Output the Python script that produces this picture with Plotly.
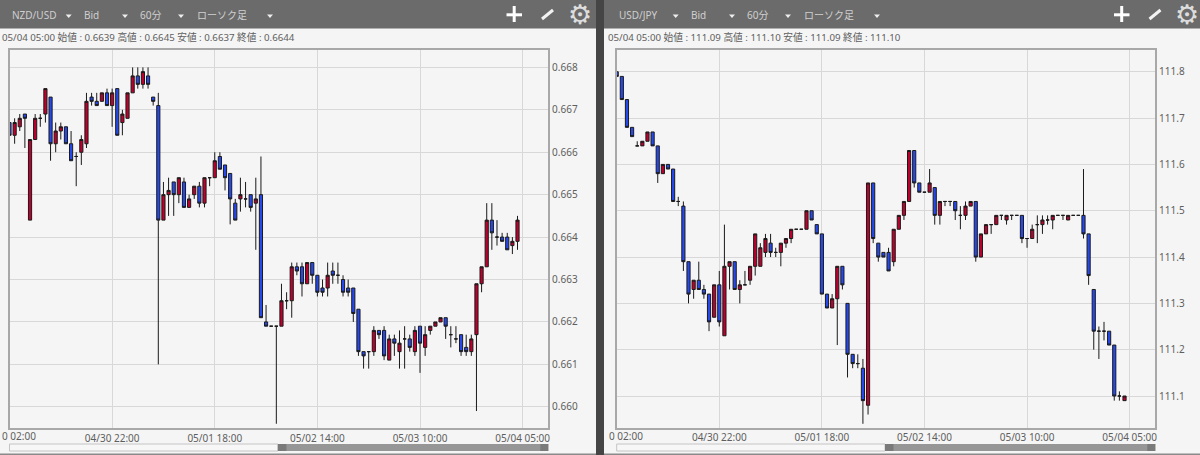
import plotly.graph_objects as go

W, H = 1200, 455

# ---- data: NZD/USD 60-minute candles ----
nzd_open = [.6667,.6664,.6666,.6669,.6644,.6663,.6668,.6669,.6673,.6662,
            .6665,.6666,.6662,.6659,.6660,.6662,.6673,.6672,.6672,.6674,
            .6671,.6675,.6667,.6668,.6674,.6678,.6676,.6678,.6673,.6671,
            .6644,.6650,.6653,.6650,.6653,.6647,.6650,.6652,.6648,.6654,
            .6654,.6659,.6657,.6655,.6648,.6649,.6649,.6650,.6648,.6650,
            .6620,.6619,.6619,.6619,.6625,.6625,.6633,.6633,.6629,.6634,
            .6631,.6628,.6628,.6632,.6631,.6630,.6628,.6628,.6623,.6613,
            .6613,.6613,.6618,.6618,.6611,.6616,.6613,.6616,.6616,.6613,
            .6619,.6614,.6618,.6619,.6620,.6621,.6617,.6616,.6617,.6614,
            .6613,.6617,.6629,.6633,.6644,.6640,.6640,.6640,.6638,.6639]
nzd_high = [.6667,.6668,.6669,.6669,.6663,.6669,.6669,.6675,.6673,.6667,
            .6667,.6666,.6665,.6660,.6664,.6674,.6674,.6674,.6674,.6675,
            .6675,.6675,.6670,.6674,.6680,.6680,.6680,.6680,.6673,.6674,
            .6653,.6654,.6653,.6654,.6654,.6650,.6652,.6653,.6654,.6654,
            .6660,.6660,.6657,.6655,.6649,.6654,.6653,.6650,.6654,.6659,
            .6624,.6619,.6619,.6629,.6627,.6634,.6634,.6634,.6634,.6634,
            .6631,.6630,.6634,.6634,.6634,.6631,.6630,.6628,.6623,.6613,
            .6613,.6619,.6618,.6619,.6617,.6617,.6618,.6619,.6617,.6619,
            .6619,.6619,.6619,.6620,.6621,.6621,.6619,.6619,.6617,.6617,
            .6617,.6629,.6633,.6648,.6648,.6644,.6641,.6641,.6640,.6645]
nzd_low = [.6664,.6662,.6665,.6661,.6644,.6663,.6666,.6667,.6658,.6660,
           .6663,.6662,.6658,.6652,.6657,.6661,.6671,.6671,.6672,.6671,
           .6666,.6664,.6664,.6668,.6674,.6675,.6675,.6675,.6671,.6610,
           .6644,.6645,.6645,.6648,.6647,.6647,.6649,.6647,.6647,.6652,
           .6654,.6656,.6651,.6643,.6644,.6646,.6647,.6646,.6637,.6621,
           .6619,.6619,.6596,.6619,.6623,.6621,.6631,.6626,.6629,.6629,
           .6626,.6626,.6626,.6629,.6629,.6626,.6626,.6620,.6612,.6609,
           .6609,.6612,.6616,.6611,.6611,.6612,.6609,.6609,.6613,.6612,
           .6608,.6612,.6617,.6619,.6620,.6616,.6614,.6615,.6612,.6612,
           .6612,.6599,.6627,.6633,.6637,.6638,.6639,.6637,.6636,.6637]
nzd_close = [.6664,.6667,.6668,.6668,.6663,.6668,.6668,.6675,.6662,.6665,
             .6666,.6662,.6658,.6659,.6663,.6672,.6672,.6671,.6674,.6671,
             .6674,.6664,.6669,.6674,.6678,.6676,.6679,.6676,.6672,.6644,
             .6650,.6651,.6650,.6654,.6647,.6649,.6652,.6648,.6654,.6654,
             .6658,.6656,.6654,.6649,.6644,.6650,.6649,.6647,.6649,.6621,
             .6619,.6619,.6619,.6625,.6625,.6633,.6632,.6629,.6634,.6631,
             .6627,.6627,.6631,.6631,.6631,.6627,.6627,.6622,.6613,.6612,
             .6613,.6618,.6617,.6612,.6616,.6615,.6615,.6616,.6614,.6618,
             .6615,.6617,.6619,.6620,.6621,.6619,.6617,.6616,.6613,.6613,
             .6616,.6629,.6633,.6644,.6641,.6640,.6639,.6637,.6639,.6644]

# ---- data: USD/JPY 60-minute candles ----
usd_open = [111.80,111.79,111.74,111.68,111.64,111.64,111.65,111.67,111.64,111.58,
            111.60,111.59,111.52,111.51,111.39,111.33,111.35,111.33,111.32,111.27,
            111.34,111.23,111.38,111.39,111.33,111.34,111.35,111.38,111.38,111.41,
            111.43,111.41,111.41,111.43,111.44,111.46,111.46,111.46,111.50,111.47,
            111.45,111.32,111.29,111.31,111.38,111.30,111.19,111.17,111.16,111.08,
            111.56,111.43,111.41,111.41,111.39,111.46,111.49,111.52,111.63,111.56,
            111.54,111.54,111.55,111.49,111.52,111.52,111.52,111.49,111.49,111.51,
            111.52,111.40,111.45,111.47,111.47,111.49,111.48,111.49,111.49,111.49,
            111.44,111.44,111.47,111.47,111.48,111.48,111.49,111.49,111.48,111.49,
            111.49,111.49,111.45,111.33,111.24,111.24,111.24,111.21,111.10,111.09]
usd_high = [111.80,111.79,111.74,111.68,111.65,111.65,111.67,111.67,111.64,111.60,
            111.60,111.59,111.53,111.52,111.39,111.35,111.39,111.34,111.32,111.34,
            111.37,111.47,111.39,111.39,111.35,111.37,111.38,111.45,111.43,111.45,
            111.45,111.42,111.43,111.44,111.46,111.46,111.46,111.50,111.50,111.47,
            111.45,111.32,111.32,111.38,111.38,111.30,111.19,111.19,111.18,111.56,
            111.56,111.43,111.41,111.42,111.46,111.49,111.52,111.63,111.63,111.56,
            111.54,111.59,111.55,111.52,111.52,111.52,111.52,111.51,111.52,111.52,
            111.52,111.45,111.47,111.47,111.49,111.49,111.49,111.49,111.49,111.49,
            111.44,111.47,111.49,111.49,111.49,111.49,111.49,111.49,111.49,111.49,
            111.49,111.59,111.45,111.33,111.25,111.26,111.24,111.21,111.11,111.10]
usd_low = [111.79,111.74,111.68,111.66,111.64,111.64,111.65,111.64,111.56,111.58,
           111.59,111.52,111.51,111.37,111.30,111.31,111.33,111.31,111.24,111.27,
           111.25,111.23,111.33,111.33,111.30,111.34,111.34,111.36,111.38,111.40,
           111.40,111.40,111.38,111.42,111.43,111.46,111.46,111.46,111.48,111.45,
           111.32,111.29,111.29,111.21,111.33,111.14,111.16,111.16,111.04,111.06,
           111.43,111.39,111.40,111.37,111.38,111.46,111.48,111.52,111.55,111.54,
           111.54,111.54,111.47,111.47,111.51,111.51,111.48,111.46,111.48,111.51,
           111.39,111.40,111.45,111.45,111.47,111.48,111.47,111.48,111.49,111.43,
           111.42,111.44,111.43,111.45,111.47,111.46,111.49,111.48,111.48,111.49,
           111.49,111.44,111.34,111.20,111.18,111.22,111.21,111.09,111.09,111.09]
usd_close = [111.79,111.74,111.68,111.66,111.64,111.65,111.67,111.64,111.58,111.60,
             111.59,111.52,111.52,111.39,111.32,111.35,111.33,111.32,111.26,111.34,
             111.26,111.38,111.39,111.33,111.34,111.34,111.38,111.45,111.42,111.44,
             111.41,111.41,111.43,111.44,111.46,111.46,111.46,111.50,111.48,111.45,
             111.32,111.29,111.31,111.38,111.34,111.19,111.17,111.17,111.09,111.56,
             111.44,111.40,111.40,111.37,111.46,111.49,111.52,111.63,111.56,111.54,
             111.54,111.56,111.49,111.52,111.52,111.52,111.50,111.49,111.51,111.52,
             111.40,111.45,111.47,111.47,111.49,111.49,111.49,111.49,111.49,111.44,
             111.44,111.46,111.47,111.48,111.48,111.49,111.49,111.49,111.49,111.49,
             111.49,111.45,111.36,111.24,111.24,111.24,111.21,111.10,111.10,111.10]

tick_slots = [0, 20, 40, 60, 80, 100]
tick_labels = ["", "04/30 22:00", "05/01 18:00", "05/02 14:00", "05/03 10:00", "05/04 05:00"]
first_tick_visible = "0 02:00"   # only this part of the first date label shows in the reference
nzd_ticks = [0.660, 0.661, 0.662, 0.663, 0.664, 0.665, 0.666, 0.667, 0.668]
usd_ticks = [111.1, 111.2, 111.3, 111.4, 111.5, 111.6, 111.7, 111.8]
menu_items = ["Bid", "60分", "ローソク足"]
nzd_info = "05/04 05:00 始値 : 0.6639 高値 : 0.6645 安値 : 0.6637 終値 : 0.6644"
usd_info = "05/04 05:00 始値 : 111.09 高値 : 111.10 安値 : 111.09 終値 : 111.10"

# ---- style ----
RED, BLUE, WICK = "#bd002e", "#2549ee", "#1a1a1a"
GRID, BORDER, BG = "#d8d8d8", "#a8a8a8", "#f5f5f5"
HEADER, DIVIDER = "#6b6b6b", "#454545"
TXT = "#5e5e5e"
FONT = "Noto Sans, Noto Sans CJK JP, sans-serif"


def px(x):
    return x / W


def py(y):
    return 1 - y / H


def rect(x0, y0, x1, y1, fill, line=None, layer="above"):
    return dict(type="rect", xref="paper", yref="paper", x0=px(x0), x1=px(x1), y0=py(y1), y1=py(y0),
                fillcolor=fill, line=dict(color=line or fill, width=1 if line else 0), layer=layer)


def label(x, y, text, color=TXT, size=10, anchor="left"):
    return dict(xref="paper", yref="paper", x=px(x), y=py(y), text=text, showarrow=False,
                xanchor=anchor, yanchor="middle", font=dict(color=color, size=size, family=FONT), borderpad=0)


x_slots = list(range(100))


def candle(o, h, l, c, xa, ya):
    return go.Candlestick(x=x_slots, open=o, high=h, low=l, close=c, xaxis=xa, yaxis=ya, showlegend=False,
                          whiskerwidth=0,
                          increasing=dict(line=dict(color=WICK, width=1), fillcolor=RED),
                          decreasing=dict(line=dict(color=WICK, width=1), fillcolor=BLUE))


fig = go.Figure([candle(nzd_open, nzd_high, nzd_low, nzd_close, "x", "y"),
                 candle(usd_open, usd_high, usd_low, usd_close, "x2", "y2")])

common_x = dict(range=[0, 105], tickmode="array", tickvals=tick_slots, ticktext=tick_labels, showgrid=True,
                gridcolor=GRID, gridwidth=1, zeroline=False, showline=True, mirror=True, linecolor=BORDER, linewidth=1.5,
                ticks="", rangeslider=dict(visible=False), ticklabeloverflow="allow", automargin=False,
                tickfont=dict(size=10, color=TXT, family=FONT))
common_y = dict(side="right", showgrid=True, gridcolor=GRID, gridwidth=1, zeroline=False, showline=True, mirror=True,
                linecolor=BORDER, linewidth=1.5, ticks="", tickmode="array", automargin=False,
                tickfont=dict(size=10, color=TXT, family=FONT))

shapes = []
annotations = []
for off, pair, info, left, right in [(0, "NZD/USD", nzd_info, 9.5, 548.3), (607, "USD/JPY", usd_info, 616.7, 1155.3)]:
    hx0 = 0 if off == 0 else 604
    hx1 = 596 if off == 0 else 1200
    shapes.append(rect(hx0, 0, hx1, 28.5, HEADER))
    annotations.append(label(11 + off, 15, pair, "#cfcfcf", 10))
    for tx, item in zip((83, 139, 196), menu_items):
        annotations.append(label(tx + off, 15, item, "#cfcfcf", 10))
    for ax in (68.7, 125, 181, 270):
        cx = ax + off
        shapes.append(dict(type="path", xref="paper", yref="paper",
                           path=f"M {px(cx-3)} {py(14.5)} L {px(cx+3)} {py(14.5)} L {px(cx)} {py(18)} Z",
                           fillcolor="#eeeeee", line=dict(width=0), layer="above"))
    shift = 0 if off == 0 else 607.5
    shapes.append(rect(506.5 + shift, 13.3, 522 + shift, 16.3, "#ffffff"))
    shapes.append(rect(512.7 + shift, 6, 515.7 + shift, 22, "#ffffff"))
    shapes.append(dict(type="line", xref="paper", yref="paper", x0=px(542 + shift), y0=py(19), x1=px(553 + shift), y1=py(10),
                       line=dict(color="#f2f2f2", width=3), layer="above"))
    annotations.append(label(579.5 + shift, 14, "⚙", "#dddddd", 27, "center"))
    annotations[-1]["font"]["family"] = "DejaVu Sans"
    annotations.append(label(1 if off == 0 else 607, 37.5, info, TXT, 9.7))
    annotations.append(label(left + 27.3, 435.5, first_tick_visible, TXT, 10, "right"))
    mid = (left + right) / 2
    thumb = mid - 1
    shapes.append(rect(left, 444, thumb, 451, "#f7f7f7", "#c4c4c4"))
    shapes.append(rect(thumb, 444, right, 451, "#969696"))
    shapes.append(rect(thumb, 444, thumb + 8.5, 451, "#7a7a7a"))
    shapes.append(rect(right - 8, 444, right, 451, "#7a7a7a"))

shapes.append(rect(596, 0, 604, 455, DIVIDER))
shapes.append(rect(0, 453.5, 596, 455, "#8a8a8a"))
shapes.append(rect(604, 453.5, 1200, 455, "#8a8a8a"))

fig.update_layout(
    width=W, height=H, autosize=False, margin=dict(l=0, r=0, t=0, b=0), paper_bgcolor=BG, plot_bgcolor=BG,
    hovermode=False, font=dict(family=FONT), boxgap=0.12,
    xaxis=dict(domain=[px(9.5), px(548.3)], anchor="y", **common_x),
    yaxis=dict(domain=[py(428), py(50)], anchor="x", range=[0.65950, 0.66841], tickvals=nzd_ticks,
               ticktext=[f"{v:.3f}" for v in nzd_ticks], **common_y),
    xaxis2=dict(domain=[px(616.7), px(1155.3)], anchor="y2", **common_x),
    yaxis2=dict(domain=[py(427.5), py(50)], anchor="x2", range=[111.032, 111.847], tickvals=usd_ticks,
                ticktext=[f"{v:.1f}" for v in usd_ticks], **common_y),
    shapes=shapes, annotations=annotations,
)

fig.write_html("out.html", config=dict(displayModeBar=False),
               post_script="document.body.style.margin='0';document.body.style.overflow='hidden';")
